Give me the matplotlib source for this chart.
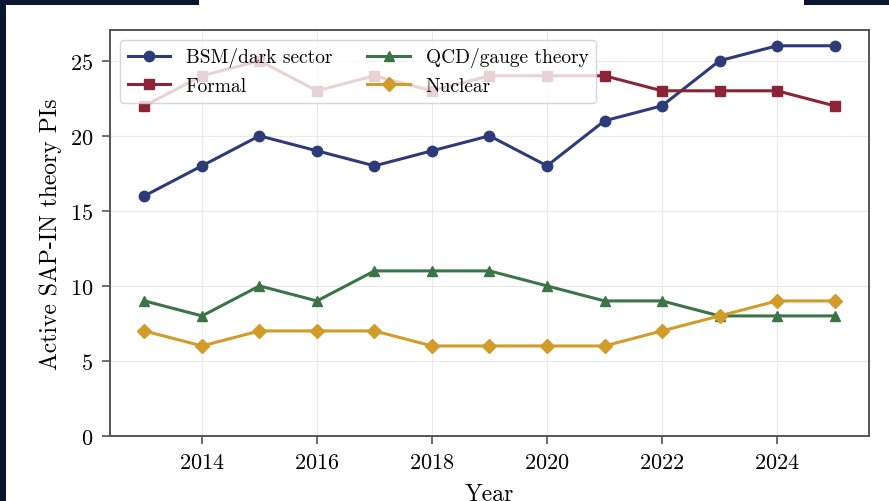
import matplotlib
matplotlib.use("Agg")
import matplotlib.pyplot as plt
from matplotlib.patches import Rectangle

years = [2013, 2014, 2015, 2016, 2017, 2018, 2019, 2020, 2021, 2022, 2023, 2024, 2025]
bsm = [16, 18, 20, 19, 18, 19, 20, 18, 21, 22, 25, 26, 26]
formal = [22, 24, 25, 23, 24, 23, 24, 24, 24, 23, 23, 23, 22]
qcd = [9, 8, 10, 9, 11, 11, 11, 10, 9, 9, 8, 8, 8]
nuclear = [7, 6, 7, 7, 7, 6, 6, 6, 6, 7, 8, 9, 9]

series = [
    ("BSM/dark sector", bsm, "#2d3c78", "o"),
    ("Formal", formal, "#8c2437", "s"),
    ("QCD/gauge theory", qcd, "#3b7447", "^"),
    ("Nuclear", nuclear, "#d19c29", "D"),
]

plt.rcParams["font.family"] = "serif"
plt.rcParams["font.serif"] = ["cmr10", "DejaVu Serif"]
plt.rcParams["axes.formatter.use_mathtext"] = True
plt.rcParams["mathtext.fontset"] = "cm"

navy = "#0a1630"
fig = plt.figure(figsize=(8.89, 5.02), dpi=100, facecolor="white")
W, H = 889, 502
# dark screenshot frame
fig.patches.append(Rectangle((0, 0), 6 / W, 1, transform=fig.transFigure,
                             facecolor=navy, edgecolor="none", zorder=-5))
fig.patches.append(Rectangle((0, 1 - 6 / H), 199 / W, 6 / H, transform=fig.transFigure,
                             facecolor=navy, edgecolor="none", zorder=-5))
fig.patches.append(Rectangle((804 / W, 1 - 6 / H), 1 - 804 / W, 6 / H,
                             transform=fig.transFigure,
                             facecolor=navy, edgecolor="none", zorder=-5))

ax = fig.add_axes([110 / W, 1 - 437 / H, (869 - 110) / W, (437 - 31) / H])

for name, vals, col, mk in series:
    ax.plot(years, vals, color=col, marker=mk, markersize=7.5, linewidth=2.2, label=name)

ax.set_ylim(0, 27.05)
ax.set_xticks([2014, 2016, 2018, 2020, 2022, 2024])
ax.set_yticks([0, 5, 10, 15, 20, 25])
ax.grid(True, color="#dddddd", linewidth=0.8, alpha=0.6)
ax.set_axisbelow(True)
for s in ax.spines.values():
    s.set_color("#555555")
    s.set_linewidth(1.4)
ax.tick_params(labelsize=16, length=6, width=1.2, color="#555555", pad=6)

ax.set_ylabel("Active SAP-IN theory PIs", fontsize=17, labelpad=6)
ax.set_xlabel("Year", fontsize=17, labelpad=8)

leg = ax.legend(loc="upper left", ncol=2, fontsize=14, frameon=True,
                framealpha=0.8, edgecolor="#cccccc", fancybox=True,
                borderaxespad=0.5, handlelength=2.2, columnspacing=1.8,
                labelspacing=0.5, borderpad=0.4)

fig.savefig("out.png", dpi=100, facecolor=fig.get_facecolor())
